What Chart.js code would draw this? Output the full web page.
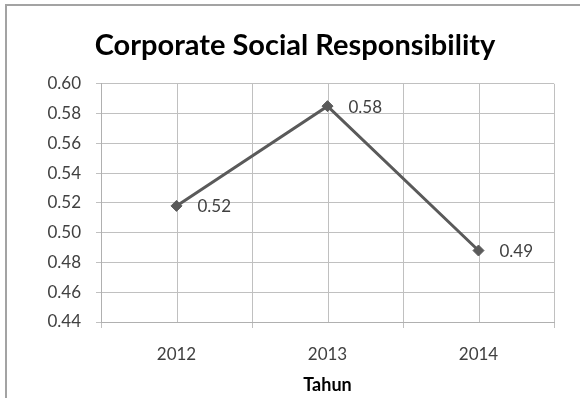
<!DOCTYPE html>
<html>
<head>
<meta charset="utf-8">
<script src="https://cdn.jsdelivr.net/npm/chart.js@4/dist/chart.umd.min.js"></script>
<style>
  html, body { margin: 0; padding: 0; background: #fff; }
  #wrap { position: relative; width: 580px; height: 398px; overflow: hidden; }
  #frame { position: absolute; left: 5px; top: 4px; width: 700px; height: 500px;
           border-top: 2px solid #a3a3a3; border-left: 2px solid #a3a3a3; pointer-events: none; }
  canvas { position: absolute; left: 0; top: 0; }
</style>
</head>
<body>
<div id="wrap">
  <canvas id="c" width="580" height="398"></canvas>
  <div id="frame"></div>
</div>
<script>
const categories = ["2012", "2013", "2014"];
const csrValues = [0.518, 0.585, 0.488];
const valueLabels = ["0.52", "0.58", "0.49"];
const chartTitle = "Corporate Social Responsibility";
const xAxisTitle = "Tahun";

const FONT = "Lato, 'Open Sans', sans-serif";
const TEXT = "#404040";
const GRID = "#c0c0c0";

const centerLines = {
  id: "centerLines",
  beforeDatasetsDraw(chart) {
    const {ctx, chartArea, scales} = chart;
    ctx.save();
    ctx.strokeStyle = GRID;
    ctx.lineWidth = 1;
    categories.forEach((c, i) => {
      const x = Math.round(scales.x.getPixelForValue(i)) + 0.5;
      ctx.beginPath();
      ctx.moveTo(x, chartArea.top);
      ctx.lineTo(x, chartArea.bottom);
      ctx.stroke();
    });
    ctx.restore();
  }
};

const pointLabels = {
  id: "pointLabels",
  afterDatasetsDraw(chart) {
    const {ctx} = chart;
    const meta = chart.getDatasetMeta(0);
    ctx.save();
    ctx.font = "17px " + FONT;
    ctx.fillStyle = TEXT;
    ctx.textAlign = "left";
    ctx.textBaseline = "middle";
    meta.data.forEach((pt, i) => {
      ctx.fillText(valueLabels[i], pt.x + 21, pt.y + 1);
    });
    ctx.restore();
  }
};

new Chart(document.getElementById("c"), {
  type: "line",
  data: {
    labels: categories,
    datasets: [{
      data: csrValues,
      borderColor: "#5a5a5a",
      backgroundColor: "#5a5a5a",
      borderWidth: 3,
      pointStyle: "rectRot",
      pointRadius: 5.5,
      pointBorderWidth: 1,
      tension: 0
    }]
  },
  options: {
    responsive: false,
    animation: false,
    layout: { padding: { top: 12, right: 26, left: 36, bottom: 0 } },
    plugins: {
      legend: { display: false },
      tooltip: { enabled: false },
      title: {
        display: true,
        text: chartTitle,
        color: "#000",
        font: { family: FONT, size: 29, weight: "bold", lineHeight: 1.2 },
        padding: { top: 16, bottom: 21 }
      }
    },
    scales: {
      x: {
        offset: true,
        grid: { offset: true, color: GRID, tickLength: 6, drawTicks: true },
        border: { color: "#b0b0b0" },
        ticks: { color: TEXT, font: { family: FONT, size: 17 }, padding: 16 },
        title: {
          display: true, text: xAxisTitle, color: "#000",
          font: { family: FONT, size: 18, weight: "bold", lineHeight: 1.2 },
          padding: { top: 0, bottom: 2 }
        },
        afterFit(s) { s.height = 76; }
      },
      y: {
        min: 0.44, max: 0.60,
        ticks: {
          stepSize: 0.02, color: TEXT, font: { family: FONT, size: 17 }, padding: 15,
          callback: v => Number(v).toFixed(2)
        },
        grid: { color: GRID, tickLength: 5 },
        border: { color: "#b0b0b0" },
        afterFit(s) { s.width = 65; }
      }
    }
  },
  plugins: [centerLines, pointLabels]
});
</script>
</body>
</html>
